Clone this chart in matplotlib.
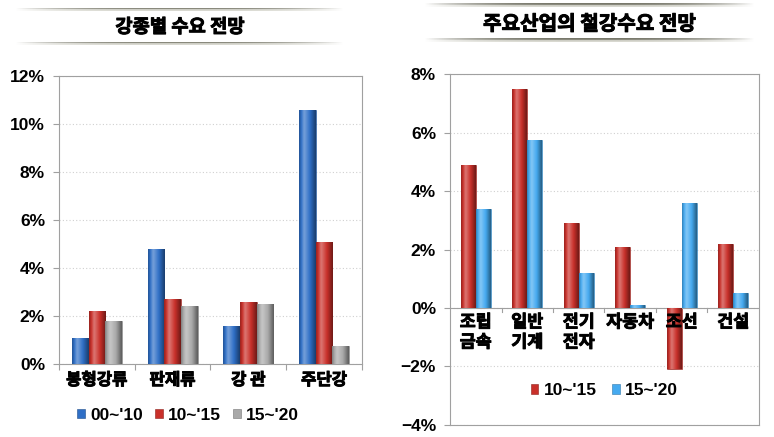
import numpy as np
import matplotlib.pyplot as plt
import matplotlib.patheffects as pe
from matplotlib.colors import to_rgb
from matplotlib.patches import Patch
from matplotlib.ticker import FuncFormatter, MultipleLocator

# 강종별 수요 전망 (연평균 증가율, %)
steel_types = ["봉형강류", "판재류", "강 관", "주단강"]
steel_periods = ["00~'10", "10~'15", "15~'20"]
steel_00_10 = [1.1, 4.8, 1.6, 10.6]
steel_10_15 = [2.2, 2.7, 2.6, 5.1]
steel_15_20 = [1.8, 2.4, 2.5, 0.75]

# 주요산업의 철강수요 전망
industries = ["조립\n금속", "일반\n기계", "전기\n전자", "자동차", "조선", "건설"]
ind_periods = ["10~'15", "15~'20"]
ind_10_15 = [4.9, 7.5, 2.9, 2.1, -2.1, 2.2]
ind_15_20 = [3.4, 5.75, 1.2, 0.1, 3.6, 0.5]

BLUE = "#2f6fc6"
RED = "#c9302a"
GRAY = "#a9a9a9"
SKY = "#45aaf0"

KR = ["Noto Sans CJK KR", "DejaVu Sans"]
NARROW = ["Liberation Sans Narrow", "Liberation Sans", "DejaVu Sans"]
BOLD_FX = [pe.withStroke(linewidth=0.7, foreground="black")]

plt.rcParams["font.family"] = KR


def shade(color, f):
    c = np.array(to_rgb(color))
    if f >= 0:
        return tuple(c + (1 - c) * f)
    return tuple(c * (1 + f))


def gradient_bars(ax, bars, color):
    # 원통 느낌의 가로 그라데이션
    xs = np.linspace(0, 1, 40)
    prof = np.interp(xs, [0, 0.3, 0.65, 1], [-0.25, 0.35, 0.0, -0.45])
    img = np.array([[shade(color, p) for p in prof]])
    for b in bars:
        x, y = b.get_x(), b.get_y()
        w, h = b.get_width(), b.get_height()
        im = ax.imshow(img, extent=(x, x + w, y, y + h), aspect="auto",
                       interpolation="bicubic", zorder=3)
        im.set_clip_path(b)
        b.set_facecolor(color)
        b.set_edgecolor(shade(color, -0.3))
        b.set_linewidth(0.4)


def title_band(fig, x0, x1, y_top, y_bot, yt, text, size):
    for yy in (y_top, y_bot):
        lax = fig.add_axes([x0, yy, x1 - x0, 0.007])
        xs = np.linspace(-1, 1, 200)
        a = np.clip(1 - np.abs(xs) ** 3, 0, 1)
        rgba = np.zeros((2, 200, 4))
        rgba[0, :, :3] = to_rgb("#77776a")
        rgba[1, :, :3] = to_rgb("#c8c8bc")
        rgba[0, :, 3] = a
        rgba[1, :, 3] = a * 0.7
        lax.imshow(rgba, aspect="auto")
        lax.set_axis_off()
    fig.text((x0 + x1) / 2, yt, text, ha="center", va="center",
             fontsize=size, fontweight="bold", family=KR, path_effects=BOLD_FX)


def style_axes(ax):
    for s in ax.spines.values():
        s.set_color("#a0a0a0")
        s.set_linewidth(0.8)
    ax.yaxis.grid(True, linestyle=(0, (1, 2)), color="#d0d0d0", linewidth=0.8)
    ax.set_axisbelow(True)
    ax.yaxis.set_major_formatter(FuncFormatter(lambda v, p: f"{v:.0f}%".replace("-", "\u2212")))
    ax.tick_params(axis="y", length=4, width=0.8, color="#a0a0a0", pad=6)


def narrow_ticks(ax):
    for lab in ax.get_yticklabels():
        lab.set_family(NARROW)
        lab.set_fontweight("bold")
        lab.set_fontsize(12.5)


fig = plt.figure(figsize=(7.74, 4.37), dpi=100)

# ---------------- 왼쪽: 강종별 ----------------
ax1 = fig.add_axes([0.0762, 0.167, 0.3915, 0.659])
x = np.arange(len(steel_types))
w = 0.22
for off, vals, col in zip([-w, 0, w], [steel_00_10, steel_10_15, steel_15_20],
                          [BLUE, RED, GRAY]):
    bars = ax1.bar(x + off, vals, w, color=col, zorder=2)
    gradient_bars(ax1, bars, col)
ax1.set_xlim(-0.5, len(steel_types) - 0.5)
ax1.set_ylim(0, 12)
ax1.yaxis.set_major_locator(MultipleLocator(2))
style_axes(ax1)
ax1.set_xticks(np.arange(len(steel_types) + 1) - 0.5, minor=False)
ax1.set_xticklabels([])
ax1.set_xticks(x, minor=True)
ax1.set_xticklabels(steel_types, minor=True, fontsize=12, fontweight="bold")
for lab in ax1.get_xticklabels(minor=True):
    lab.set_path_effects(BOLD_FX)
ax1.tick_params(axis="x", which="major", length=4, color="#a0a0a0")
ax1.tick_params(axis="x", which="minor", length=0, pad=5)
narrow_ticks(ax1)

h1 = [Patch(facecolor=c, edgecolor=shade(c, -0.3), linewidth=0.4) for c in [BLUE, RED, GRAY]]
fig.legend(h1, steel_periods, loc="center", bbox_to_anchor=(0.243, 0.05),
           ncol=3, frameon=False, handlelength=0.45, handleheight=0.45,
           handletextpad=0.3, columnspacing=0.7,
           prop={"family": NARROW, "weight": "bold", "size": 12.5})

title_band(fig, 0.02, 0.445, 0.975, 0.898, 0.938, "강종별 수요 전망", 13.5)

# ---------------- 오른쪽: 산업별 ----------------
ax2 = fig.add_axes([0.5814, 0.0275, 0.3992, 0.803])
x2 = np.arange(len(industries))
w2 = 0.29
for off, vals, col in zip([-w2 / 2, w2 / 2], [ind_10_15, ind_15_20], [RED, SKY]):
    bars = ax2.bar(x2 + off, vals, w2, color=col, zorder=2)
    gradient_bars(ax2, bars, col)
ax2.set_xlim(-0.5, len(industries) - 0.5)
ax2.set_ylim(-4, 8)
ax2.yaxis.set_major_locator(MultipleLocator(2))
style_axes(ax2)
ax2.set_xticks([])
ax2.axhline(0, color="#a0a0a0", linewidth=0.8, zorder=2.5)
for xb in np.arange(1, len(industries)) - 0.5:
    ax2.plot([xb, xb], [0, -0.12], color="#a0a0a0", linewidth=0.8, zorder=2.5)
for i, name in enumerate(industries):
    ax2.text(i, -0.18, name, ha="center", va="top", fontsize=12.5,
             fontweight="bold", linespacing=1.15, zorder=4, path_effects=BOLD_FX)
narrow_ticks(ax2)

h2 = [Patch(facecolor=c, edgecolor=shade(c, -0.3), linewidth=0.4) for c in [RED, SKY]]
ax2.legend(h2, ind_periods, loc="center", bbox_to_anchor=(0.5, 0.098),
           ncol=2, frameon=False, handlelength=0.45, handleheight=0.45,
           handletextpad=0.3, columnspacing=0.9,
           prop={"family": NARROW, "weight": "bold", "size": 12.5})

title_band(fig, 0.548, 0.975, 0.985, 0.905, 0.946, "주요산업의 철강수요 전망", 14.5)

fig.savefig("out.png", dpi=100)
